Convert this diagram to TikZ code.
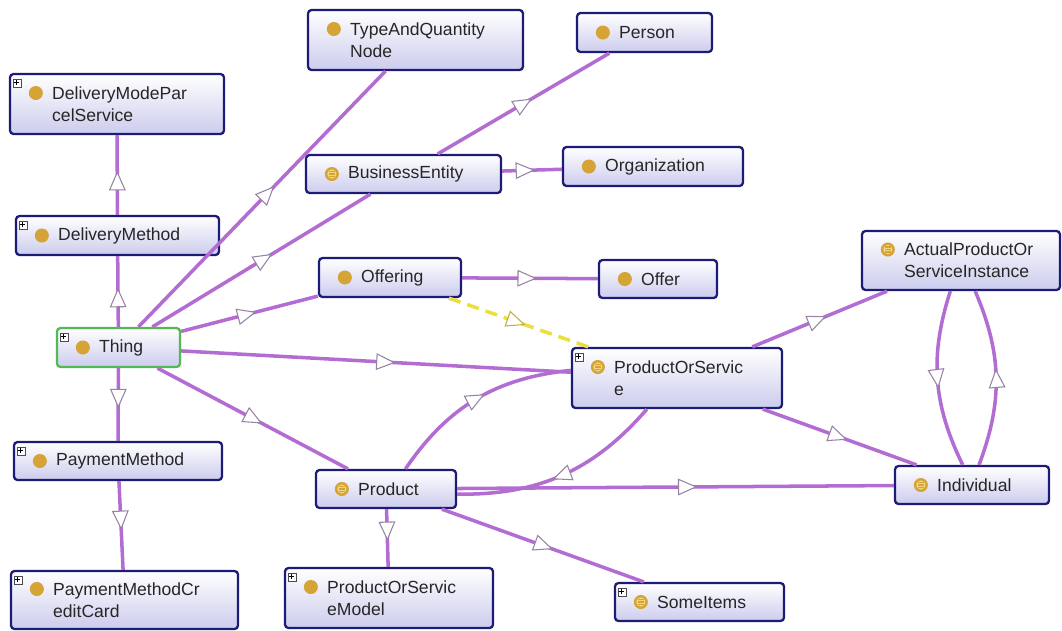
\documentclass[tikz,border=0pt]{standalone}
\usepackage{fontspec}
\setmainfont{Liberation Sans}
\usepackage{xcolor}
\usetikzlibrary{arrows.meta, positioning, calc, decorations.markings}

\definecolor{edgec}{RGB}{178,108,210}
\definecolor{tric}{RGB}{150,130,165}
\definecolor{boxline}{RGB}{28,28,118}
\definecolor{boxfill}{RGB}{204,204,238}
\definecolor{rootline}{RGB}{84,184,84}
\definecolor{iconc}{RGB}{214,164,54}
\definecolor{iconl}{RGB}{240,216,130}
\definecolor{dashc}{RGB}{236,222,62}

\tikzset{
  cls/.style={rectangle, rounded corners=2pt, draw=boxline, line width=1.3pt,
    top color=white, bottom color=boxfill, inner sep=0pt},
  root/.style={cls, draw=rootline},
  lbl/.style={font=\fontsize{10}{12.5}\selectfont, text=black!85, align=left,
    inner sep=0pt, anchor=west},
  midtri/.style={postaction={decorate}, decoration={markings,
    mark=at position 0.55 with {\arrow{Triangle[fill=white, color=#1,
      length=11pt, width=9.5pt, line width=0.6pt]}}}},
  isa/.style={draw=edgec, line width=2pt, midtri=tric},
  link/.style={draw=dashc, line width=2pt, dash pattern=on 7pt off 4pt, midtri=dashc!80!black}
}

\begin{document}
\begin{tikzpicture}[x=0.02cm, y=-0.02cm]
    \useasboundingbox (0,0) rectangle (1062,630);

    % Class boxes: name / x / y / width / height / style / icon / plus / text
    \foreach \nm/\x/\y/\w/\h/\s/\k/\p/\t in {
        tqn/415.5/40/215/60/cls/c/0/{TypeAndQuantity\\Node},
        person/644.5/32.5/135/39/cls/c/0/Person,
        bizent/403.5/174/195/38/cls/e/0/BusinessEntity,
        org/653/166.5/180/39/cls/c/0/Organization,
        offering/390/277.5/142/39/cls/c/0/Offering,
        offer/658/279/118/38/cls/c/0/Offer,
        dmps/117/104/214/60/cls/c/1/{DeliveryModePar\\celService},
        dmethod/117.5/235.5/203/39/cls/c/1/DeliveryMethod,
        thing/118.5/347.5/123/39/root/c/1/Thing,
        paymeth/118/461/208/38/cls/c/1/PaymentMethod,
        pmcc/124.5/600/227/58/cls/c/1/{PaymentMethodCr\\editCard},
        pos/677/378/210/60/cls/e/1/{ProductOrServic\\e},
        apsi/961/260.5/198/59/cls/e/0/{ActualProductOr\\ServiceInstance},
        indiv/972/485/154/38/cls/e/0/Individual,
        product/386/489/140/38/cls/e/0/Product,
        posm/389/598/208/60/cls/c/1/{ProductOrServic\\eModel},
        items/699.5/602/169/38/cls/e/1/SomeItems} {
        \node[\s, minimum width=0.02cm*\w, minimum height=0.02cm*\h] (\nm) at (\x,\y) {};
        \pgfmathsetmacro{\iy}{\h>50 ? -11 : 0}
        \fill[iconc] ($(\nm.west)+(27,\iy)$) circle (4pt);
        \if\k e
            \fill[iconl] ($(\nm.west)+(27,\iy)$) circle (2.6pt);
            \foreach \dy in {-2.5,0,2.5}
                \draw[iconc, line width=0.6pt] ($(\nm.west)+(24,\iy+\dy)$) -- +(6,0);
        \fi
        \ifnum\p=1
            \draw[black!70, fill=white, line width=0.4pt] ($(\nm.north west)+(4,6)$) rectangle +(8,8);
            \draw[black, line width=0.5pt] ($(\nm.north west)+(5.5,10)$) -- +(5,0)
                ($(\nm.north west)+(8,7.5)$) -- +(0,5);
        \fi
        \node[lbl] (\nm-t) at ($(\nm.west)+(43,0)$) {\t};
    }

    % Subclass links
    \foreach \a/\b in {thing/dmethod, dmethod/dmps, thing/tqn, thing/bizent,
        thing/offering, thing/pos, thing/product, thing/paymeth, paymeth/pmcc,
        bizent/person, bizent/org, offering/offer, pos/apsi, pos/indiv,
        product/indiv, product/posm, product/items}
        \draw[isa] (\a) -- (\b);

    % Curved links
    \draw[isa] (product) to[bend left=25] (pos);
    \draw[isa] (pos) to[bend left=25] (product);
    \draw[isa] (apsi) to[bend right=22] (indiv);
    \draw[isa] (indiv) to[bend right=22] (apsi);

    % Offering to ProductOrService
    \draw[link] (offering) -- (pos);
\end{tikzpicture}
\end{document}
